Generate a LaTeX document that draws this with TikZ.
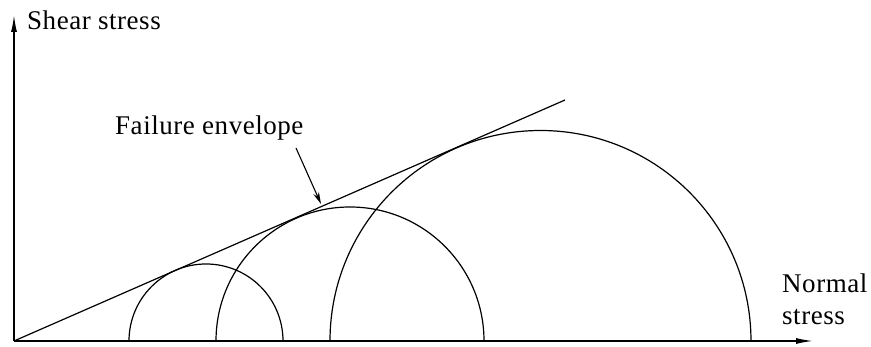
\documentclass[tikz,border=0pt]{standalone}
\usepackage{fontspec}
\setmainfont{Liberation Serif}[LetterSpace=2]
\usetikzlibrary{arrows.meta,positioning,calc}
\tikzset{
  axis/.style={draw=black, line width=1.4pt, -{Latex[length=17pt,width=6pt]}},
  circ/.style={draw=black, line width=1.2pt},
  envline/.style={draw=black, line width=1.2pt},
  pointer/.style={draw=black, line width=1.1pt, -{Stealth[length=12pt,width=6pt]}},
  lbl/.style={font=\fontsize{27}{32}\selectfont, inner sep=0pt},
}
\begin{document}
\begin{tikzpicture}[x=1pt,y=1pt]
\useasboundingbox (-14,-6) rectangle (857,341);
% Axes
\coordinate (O) at (0,0);
\coordinate (ytop) at (0,326);
\coordinate (xend) at (799,0);
\draw[axis] (O) -- (ytop);
\draw[axis] (O) -- (xend);

% Mohr circles
\draw[circ] (269,0) arc[start angle=0, end angle=180, radius=77];
\draw[circ] (470,0) arc[start angle=0, end angle=180, radius=134];
\draw[circ] (737,0) arc[start angle=0, end angle=180, radius=210.5];

% Failure envelope
\coordinate (envend) at (551,241);
\draw[envline] (O) -- (envend);

% Labels
\node[lbl, anchor=base west] (shear) at (13,311) {Shear stress};
\node[lbl, anchor=base west] (normal) at (768,48) {Normal};
\node[lbl, anchor=base west] (stress) at (768,16) {stress};
\node[lbl, anchor=base west] (fail) at (101,206) {Failure envelope};
\coordinate (ptail) at (282,193);
\coordinate (ptip) at (307,137);
\draw[pointer] (ptail) -- (ptip);
\end{tikzpicture}
\end{document}
